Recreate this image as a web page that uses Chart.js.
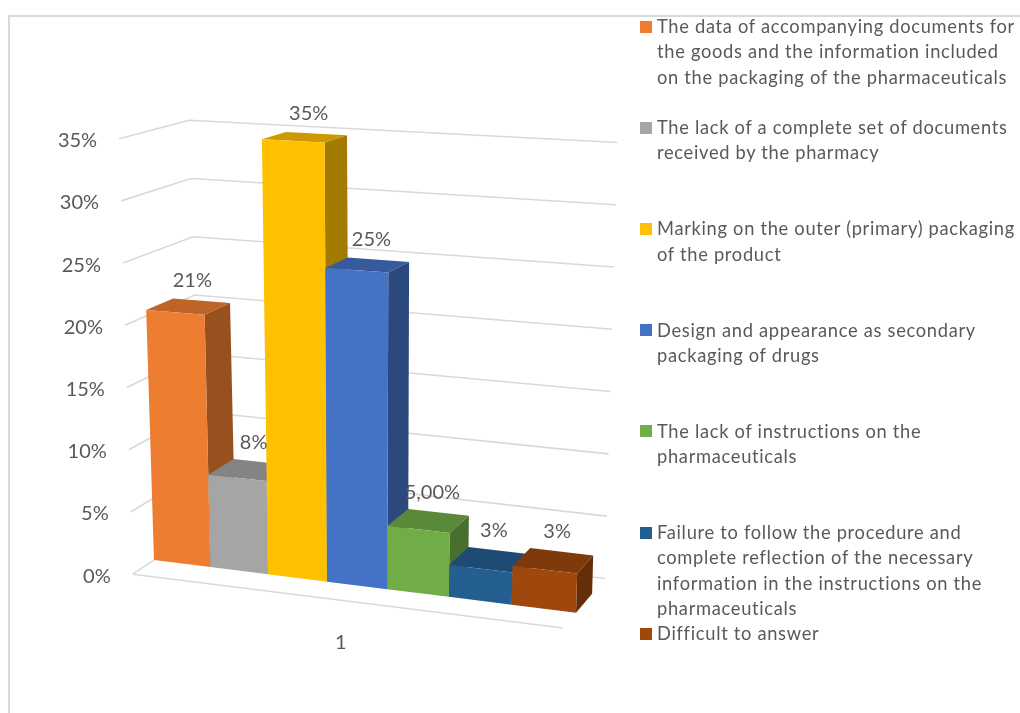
<!DOCTYPE html>
<html lang="en">
<head>
<meta charset="UTF-8">
<title>Pharmaceutical documentation issues</title>
<script src="https://cdn.jsdelivr.net/npm/chart.js@4.4.1/dist/chart.umd.min.js"></script>
<style>
    body { margin: 0; background: #fff; overflow: hidden; font-family: Lato, 'Open Sans', sans-serif; }
    .wrap { position: relative; width: 1020px; height: 713px; }
    .frame { position: absolute; left: 8px; top: 15px; width: 1100px; height: 800px;
             border-left: 2px solid #d9d9d9; border-top: 2px solid #d9d9d9; }
    canvas { position: absolute; left: 0; top: 0; }
    #legend { position: absolute; left: 640px; top: 14px; color: #595959;
              font-size: 18.3px; line-height: 25.3px; letter-spacing: 0.7px; }
    .item { position: relative; min-height: 101.2px; padding-left: 17px; white-space: nowrap; }
    .box { position: absolute; left: 0; top: 6.6px; width: 12px; height: 12px; }
</style>
</head>
<body>
<div class="wrap">
    <div class="frame"></div>
    <canvas id="chart" width="1020" height="713"></canvas>
    <div id="legend"></div>
</div>
<script>
    // data
    const categories = ['1'];
    const seriesNames = [
        ['The data of accompanying documents for', 'the goods and the information included', 'on the packaging of the pharmaceuticals'],
        ['The lack of a complete set of documents', 'received by the pharmacy'],
        ['Marking on the outer (primary) packaging', 'of the product'],
        ['Design and appearance as secondary', 'packaging of drugs'],
        ['The lack of instructions on the', 'pharmaceuticals'],
        ['Failure to follow the procedure and', 'complete reflection of the necessary', 'information in the instructions on the', 'pharmaceuticals'],
        ['Difficult to answer']
    ];
    const seriesValues = [20.5, 7.5, 35, 25, 5, 2.5, 3];
    const valueLabels = ['21%', '8%', '35%', '25%', '5,00%', '3%', '3%'];
    const seriesColors = ['#ED7D31', '#A5A5A5', '#FFC000', '#4472C4', '#70AD47', '#255E91', '#9E480E'];
    const yTicks = [0, 5, 10, 15, 20, 25, 30, 35];
    const yTickLabels = ['0%', '5%', '10%', '15%', '20%', '25%', '30%', '35%'];

    // perspective settings (Excel-like 3D look)
    const VX = 1220, VY = -150;     // depth vanishing point
    const K_FLOOR = -0.02;          // floor front edge
    const K_BAR = 0.025;            // bar depth
    const K_WALL = 0.045;           // back wall
    const SLOPE_LOW = 0.125, SLOPE_HIGH = 0.055;
    const TILT = 0.063;
    const WIDEN = 0.924;            // bars get wider towards the right

    function shade(hex, f) {
        const n = parseInt(hex.slice(1), 16);
        const r = Math.round(((n >> 16) & 255) * f);
        const g = Math.round(((n >> 8) & 255) * f);
        const b = Math.round((n & 255) * f);
        return `rgb(${r},${g},${b})`;
    }

    const box3d = {
        id: 'box3d',
        beforeDatasetsDraw(chart) {
            const ctx = chart.ctx, y = chart.scales.y, area = chart.chartArea;
            const vMax = y.max;
            const W = area.right - area.left;
            const xc = (area.left + area.right) / 2;

            function proj(x, v, k) {
                const u = (x - area.left) / W;
                const xw = area.left + W * (WIDEN * u + (1 - WIDEN) * u * u);
                const t = v / vMax;
                const s = SLOPE_LOW + (SLOPE_HIGH - SLOPE_LOW) * t;
                const px = xc + (xw - xc) * (1 + TILT * t);
                const py = y.getPixelForValue(v) + s * (xw - area.left);
                return [px + k * (VX - px), py + k * (VY - py)];
            }
            function poly(pts, color) {
                ctx.beginPath();
                ctx.moveTo(pts[0][0], pts[0][1]);
                for (let i = 1; i < pts.length; i++) ctx.lineTo(pts[i][0], pts[i][1]);
                ctx.closePath();
                ctx.fillStyle = color;
                ctx.fill();
            }

            ctx.save();
            // walls + gridlines
            ctx.strokeStyle = '#d9d9d9';
            ctx.lineWidth = 1.6;
            yTicks.forEach(v => {
                const a = proj(area.left, v, K_FLOOR);
                const b = proj(area.left, v, K_WALL);
                const c = proj(area.right, v, K_WALL);
                ctx.beginPath();
                ctx.moveTo(a[0], a[1]);
                ctx.lineTo(b[0], b[1]);
                ctx.lineTo(c[0], c[1]);
                ctx.stroke();
            });
            // floor front edge
            const f1 = proj(area.left, 0, K_FLOOR), f2 = proj(area.right, 0, K_FLOOR);
            ctx.beginPath();
            ctx.moveTo(f1[0], f1[1]);
            ctx.lineTo(f2[0], f2[1]);
            ctx.stroke();

            // bars
            chart.data.datasets.forEach((ds, i) => {
                const el = chart.getDatasetMeta(i).data[0];
                const v = ds.data[0];
                const xl = el.x - el.width / 2, xr = el.x + el.width / 2;
                const col = seriesColors[i];
                poly([proj(xl, v, 0), proj(xr, v, 0), proj(xr, v, K_BAR), proj(xl, v, K_BAR)], shade(col, 0.8));
                poly([proj(xr, 0, 0), proj(xr, v, 0), proj(xr, v, K_BAR), proj(xr, 0, K_BAR)], shade(col, 0.64));
                poly([proj(xl, 0, 0), proj(xr, 0, 0), proj(xr, v, 0), proj(xl, v, 0)], col);
            });

            // value labels
            ctx.fillStyle = '#595959';
            ctx.font = '20px Lato';
            ctx.textAlign = 'center';
            ctx.textBaseline = 'middle';
            chart.data.datasets.forEach((ds, i) => {
                const el = chart.getDatasetMeta(i).data[0];
                const v = ds.data[0];
                const ft = proj(el.x, v, 0), bt = proj(el.x, v, K_BAR);
                ctx.fillText(valueLabels[i], (ft[0] + bt[0]) / 2 + 4, bt[1] - 20);
            });

            // y tick labels
            ctx.textAlign = 'right';
            yTicks.forEach((v, i) => {
                const p = proj(area.left, v, K_FLOOR);
                ctx.fillText(yTickLabels[i], p[0] - 22, p[1] + 2);
            });

            // category label
            ctx.textAlign = 'center';
            const m = proj(xc, 0, K_FLOOR);
            ctx.fillText(categories[0], m[0] + 1, m[1] + 42);
            ctx.restore();
            return false;
        }
    };

    new Chart(document.getElementById('chart'), {
        type: 'bar',
        data: {
            labels: categories,
            datasets: seriesValues.map((v, i) => ({
                label: seriesNames[i].join(' '),
                data: [v],
                backgroundColor: seriesColors[i],
                categoryPercentage: 1,
                barPercentage: 1
            }))
        },
        options: {
            responsive: false,
            animation: false,
            layout: { padding: { left: 154, right: 444, top: 133, bottom: 153 } },
            scales: {
                x: { display: false },
                y: { display: false, min: 0, max: 35, ticks: { stepSize: 5 } }
            },
            plugins: { legend: { display: false }, tooltip: { enabled: false } }
        },
        plugins: [box3d]
    });

    // legend
    const legend = document.getElementById('legend');
    seriesNames.forEach((lines, i) => {
        const item = document.createElement('div');
        item.className = 'item';
        item.innerHTML = `<span class="box" style="background:${seriesColors[i]}"></span>` + lines.join('<br>');
        legend.appendChild(item);
    });
</script>
</body>
</html>
